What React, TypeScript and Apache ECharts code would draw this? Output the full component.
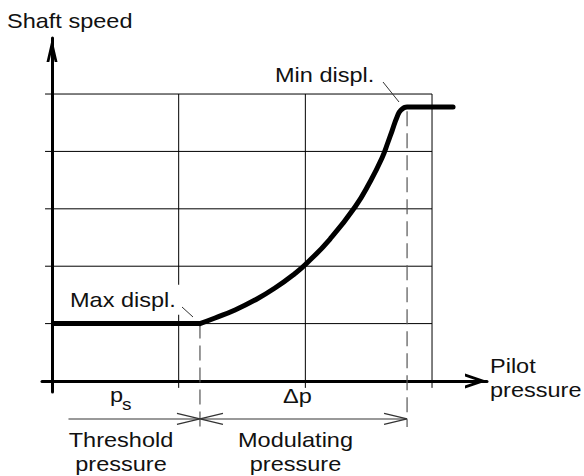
import React, { useEffect, useRef } from 'react';
import * as echarts from 'echarts';

// Flat part at maximum displacement (below the threshold pressure)
const flatX = [0, 1.168];
const flatY = [1, 1];
// Modulating part of the curve, up to minimum displacement
const curveX = [1.168, 1.287, 1.445, 1.603, 1.76, 1.918, 2.013, 2.195, 2.392, 2.51, 2.605, 2.653, 2.684, 2.724, 2.755, 2.803, 2.866, 3.166];
const curveY = [1.0, 1.098, 1.237, 1.411, 1.62, 1.873, 2.056, 2.474, 3.031, 3.467, 3.885, 4.164, 4.355, 4.599, 4.721, 4.774, 4.774, 4.774];
// Grid lines
const hGridValues = [1, 2, 3, 4, 5];
const vGridValues = [1, 2, 3];
// Key pressures
const thresholdX = 1.168;
const minDisplX = 2.803;
// Dimension segments: [from, to, y, arrowAtStart, arrowAtEnd]
const dimSegments = [
  [0.13, 1.168, -0.66, 0, 1],
  [1.168, 2.803, -0.66, 1, 1],
];

const FONT = '"Liberation Sans", Arial, Helvetica, sans-serif';
const SX = 1.12;

export default function App() {
  const ref = useRef<HTMLDivElement>(null);

  useEffect(() => {
    if (!ref.current) return;
    const chart = echarts.init(ref.current, null, { renderer: 'svg' });

    const gridLineStyle = { color: '#000', width: 1 };
    const series: any[] = [];
    hGridValues.forEach((v) => {
      series.push({
        type: 'line', silent: true, symbol: 'none', z: 1, clip: false,
        data: [[-0.055, v], [3, v]],
        lineStyle: gridLineStyle,
      });
    });
    vGridValues.forEach((v) => {
      series.push({
        type: 'line', silent: true, symbol: 'none', z: 1, clip: false,
        data: [[v, -0.12], [v, 5]],
        lineStyle: gridLineStyle,
      });
    });
    [[thresholdX, 1], [minDisplX, 4.7]].forEach(([x, top]) => {
      series.push({
        type: 'line', silent: true, symbol: 'none', z: 2, clip: false,
        data: [[x, top], [x, -0.8]],
        lineStyle: { color: '#555', width: 1.2, type: [15, 7] },
      });
    });
    series.push({
      type: 'line', silent: true, symbol: 'none', z: 5,
      data: flatX.map((x, i) => [x, flatY[i]]),
      lineStyle: { color: '#000', width: 5 },
    });
    series.push({
      type: 'line', silent: true, symbol: 'none', z: 5, smooth: 0.5,
      data: curveX.map((x, i) => [x, curveY[i]]),
      lineStyle: { color: '#000', width: 5, cap: 'round', join: 'round' },
    });
    series.push({
      type: 'custom', coordinateSystem: 'cartesian2d', clip: false, silent: true, z: 3,
      data: dimSegments,
      encode: { x: [0, 1], y: 2 },
      renderItem: (params: any, api: any) => {
        const a = api.coord([api.value(0), api.value(2)]);
        const b = api.coord([api.value(1), api.value(2)]);
        const L = 23;
        const W = 5.5;
        const children: any[] = [
          { type: 'line', shape: { x1: a[0], y1: a[1], x2: b[0], y2: b[1] }, style: { stroke: '#777', lineWidth: 1.5 } },
        ];
        if (api.value(3)) {
          children.push({
            type: 'polyline',
            shape: { points: [[a[0] + L, a[1] - W], [a[0], a[1]], [a[0] + L, a[1] + W]] },
            style: { stroke: '#333', lineWidth: 1.3, fill: null },
          });
        }
        if (api.value(4)) {
          children.push({
            type: 'polyline',
            shape: { points: [[b[0] - L, b[1] - W], [b[0], b[1]], [b[0] - L, b[1] + W]] },
            style: { stroke: '#333', lineWidth: 1.3, fill: null },
          });
        }
        return { type: 'group', children };
      },
    });

    const txt = (text: string, x: number, y: number, align: string, extra: any = {}) => ({
      type: 'text', x, y, scaleX: SX, z: 20,
      style: {
        text, fill: '#111', fontFamily: FONT, fontSize: 21, lineHeight: 24,
        align, verticalAlign: 'middle', ...extra,
      },
    });

    chart.setOption({
      animation: false,
      backgroundColor: '#fff',
      grid: { left: 42, top: 38, width: 445, height: 354, containLabel: false },
      xAxis: {
        type: 'value', min: -0.079, max: 3.434,
        axisLine: {
          onZero: true,
          lineStyle: { color: '#000', width: 3 },
          symbol: ['none', 'path://M7.5,0 L15,22 L12,22 L7.5,8.8 L3,22 L0,22 Z'],
          symbolSize: [15, 22],
          symbolOffset: [0, -11],
        },
        axisTick: { show: false }, axisLabel: { show: false }, splitLine: { show: false },
      },
      yAxis: {
        type: 'value', min: -0.1916, max: 5.976,
        axisLine: {
          onZero: true,
          lineStyle: { color: '#000', width: 3 },
          symbol: ['none', 'path://M5.5,0 L11,24 L8.2,24 L5.5,12.2 L2.8,24 L0,24 Z'],
          symbolSize: [11, 24],
          symbolOffset: [0, -12],
        },
        axisTick: { show: false }, axisLabel: { show: false }, splitLine: { show: false },
      },
      series,
      graphic: [
        txt('Shaft speed', 7, 20.7, 'left'),
        txt('Min displ.', 275, 74.7, 'left'),
        txt('Max displ.', 70, 299.7, 'left', { backgroundColor: '#fff', padding: [3, 7, 3, 0] }),
        txt('p', 110, 394.7, 'left'),
        txt('s', 122, 404, 'left', { fontSize: 17 }),
        txt('Δp', 283, 395.7, 'left'),
        txt('Threshold\npressure', 121, 451.7, 'center'),
        txt('Modulating\npressure', 295.5, 451.7, 'center'),
        txt('Pilot\npressure', 490, 377.7, 'left'),
        { type: 'line', z: 21, shape: { x1: 182, y1: 307, x2: 193, y2: 317 }, style: { stroke: '#333', lineWidth: 1 } },
        { type: 'line', z: 21, shape: { x1: 383, y1: 82, x2: 399, y2: 102 }, style: { stroke: '#333', lineWidth: 1 } },
      ],
    });

    return () => chart.dispose();
  }, []);

  return (
    <div
      ref={ref}
      style={{ position: 'absolute', left: 0, top: 0, width: 584, height: 476, background: '#fff' }}
    />
  );
}
